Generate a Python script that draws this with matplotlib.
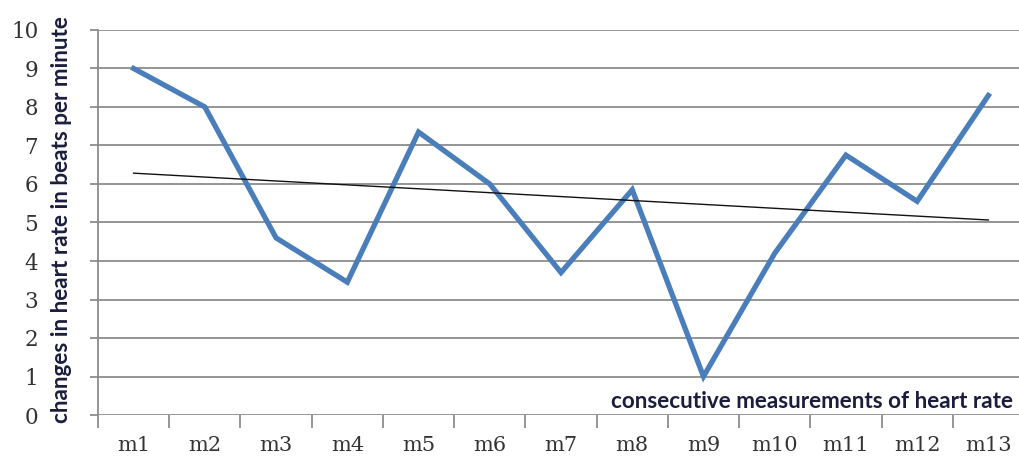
import numpy as np
import matplotlib
matplotlib.use("Agg")
import matplotlib.pyplot as plt
from matplotlib.ticker import FixedLocator

# Heart-rate changes over consecutive measurements
labels = ["m1", "m2", "m3", "m4", "m5", "m6", "m7", "m8", "m9", "m10", "m11", "m12", "m13"]
changes = [9.0, 8.0, 4.6, 3.45, 7.35, 6.0, 3.7, 5.85, 1.0, 4.2, 6.75, 5.55, 8.3]
y_ticks = list(range(0, 11))

x = np.arange(1, len(labels) + 1)
y = np.array(changes)

# Linear trend fitted through the series
slope, intercept = np.polyfit(x, y, 1)
trend = slope * x + intercept

W, H = 1019, 462
fig = plt.figure(figsize=(W / 100, H / 100), dpi=100)
left_px, right_px = 98, 1024
bottom_px, top_px = 415, 30
ax = fig.add_axes([left_px / W, (H - bottom_px) / H,
                   (right_px - left_px) / W, (bottom_px - top_px) / H])

grid_color = "#8c8c8c"
ax.set_xlim(0.5, len(labels) + 0.5)
ax.set_ylim(0, 10)
for v in y_ticks:
    ax.axhline(v, color=grid_color, lw=1.3, zorder=1)

ax.plot(x, y, color="#4a7ebb", lw=3.8, solid_joinstyle="miter", zorder=3)
ax.plot(x, trend, color="#111111", lw=1.0, zorder=4)

for s in ["top", "right", "bottom"]:
    ax.spines[s].set_visible(False)
ax.spines["left"].set_color(grid_color)
ax.spines["left"].set_linewidth(1.3)

ax.set_yticks(y_ticks)
ax.set_yticklabels([str(v) for v in y_ticks], family="DejaVu Serif", fontsize=15.5, color="#333333")
ax.tick_params(axis="y", length=6, width=1.3, color=grid_color, pad=37)

ax.set_xticks(x)
ax.set_xticklabels(labels, family="DejaVu Serif", fontsize=15, color="#333333")
ax.tick_params(axis="x", length=0, pad=15)
ax.xaxis.set_minor_locator(FixedLocator(np.arange(0.5, len(labels) + 1, 1.0)))
ax.tick_params(axis="x", which="minor", length=9, width=1.3, color=grid_color, direction="out")

text_color = "#1c1c3c"
fig.text(62 / W, 1 - 220 / H, "changes in heart rate in beats per minute",
         rotation=90, ha="center", va="center", fontsize=16.2, fontweight="bold",
         family="Lato", color=text_color)
fig.text(1013 / W, 1 - 402 / H, "consecutive measurements of heart rate",
         ha="right", va="center", fontsize=16.2, fontweight="bold",
         family="Lato", color=text_color)

fig.savefig("out.png", dpi=100)
